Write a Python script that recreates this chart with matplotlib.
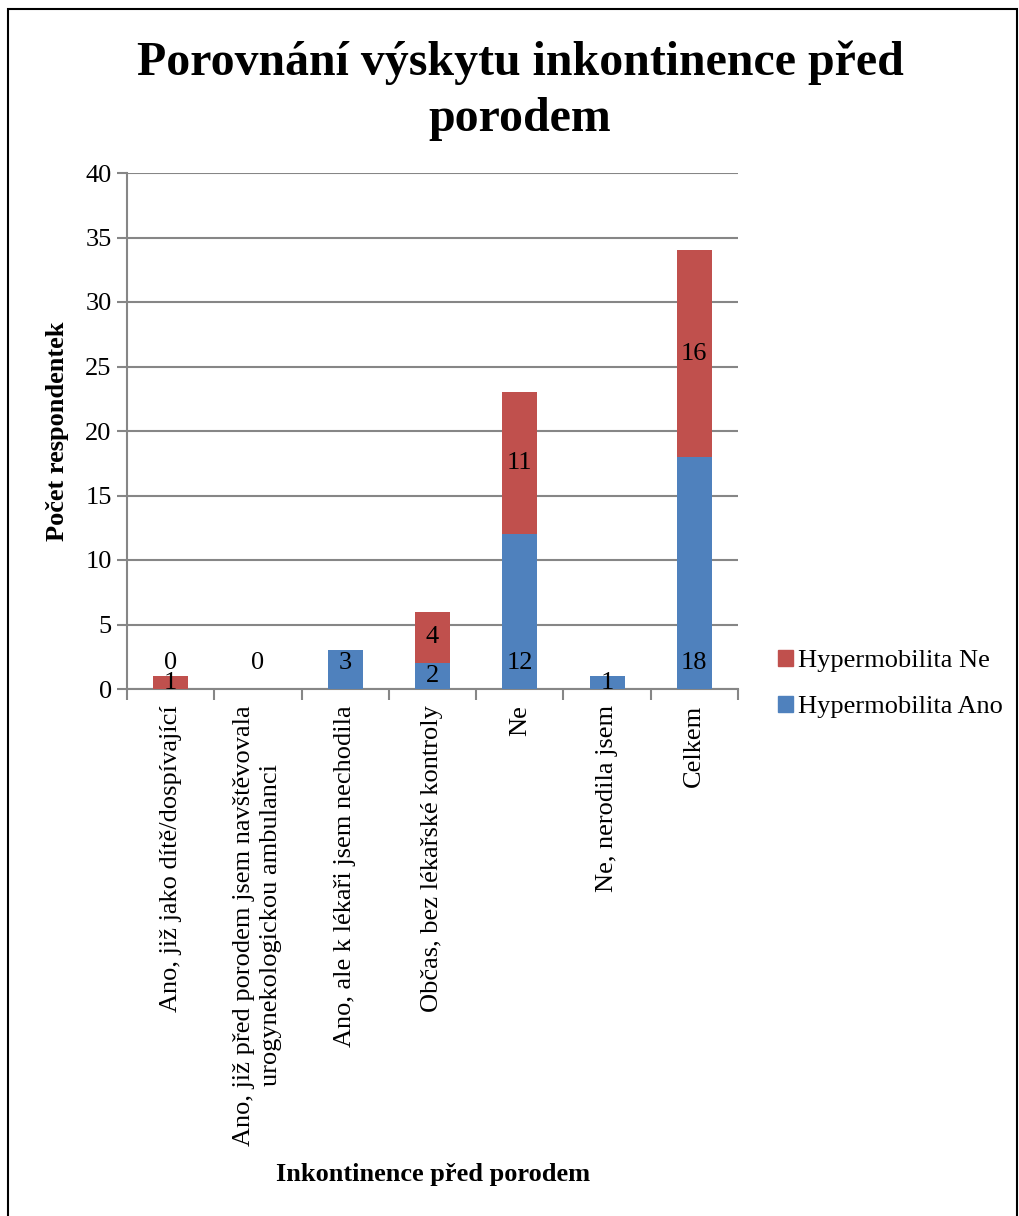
import matplotlib
matplotlib.use("Agg")
import matplotlib.pyplot as plt
import numpy as np
from matplotlib.patches import Rectangle, Patch

categories = [
    "Ano, již jako dítě/dospívající",
    "Ano, již před porodem jsem navštěvovala\nurogynekologickou ambulanci",
    "Ano, ale k lékaři jsem nechodila",
    "Občas, bez lékařské kontroly",
    "Ne",
    "Ne, nerodila jsem",
    "Celkem",
]
hyper_ano = [0, 0, 3, 2, 12, 1, 18]
hyper_ne = [1, np.nan, np.nan, 4, 11, np.nan, 16]
yticks = [0, 5, 10, 15, 20, 25, 30, 35, 40]

title = "Porovnání výskytu inkontinence před\nporodem"
xlabel = "Inkontinence před porodem"
ylabel = "Počet respondentek"

BLUE = "#4F81BD"
RED = "#C0504D"
GRID = "#868686"

plt.rcParams['font.family'] = ['Liberation Serif', 'DejaVu Serif']

W, H = 1020, 1216
fig = plt.figure(figsize=(W / 100, H / 100), dpi=100)
ax = fig.add_axes([127 / W, 1 - 689 / H, (738 - 127) / W, (689 - 173) / H])

x = np.arange(len(categories))
ano = np.array(hyper_ano, dtype=float)
ne = np.array(hyper_ne, dtype=float)
ax.bar(x, ano, width=0.4, color=BLUE, zorder=3, label="Hypermobilita Ano")
ax.bar(x, np.nan_to_num(ne), bottom=ano, width=0.4, color=RED, zorder=3,
       label="Hypermobilita Ne")

fs = 19
# data labels
for i, v in enumerate(ano):
    if v >= 3 or v == 0:
        y = 2.0
    else:
        y = v / 2
    ax.text(i, y, f"{int(v)}", ha="center", va="center", fontsize=fs, zorder=5)
for i, v in enumerate(ne):
    if np.isnan(v):
        continue
    ax.text(i, ano[i] + v / 2, f"{int(v)}", ha="center", va="center", fontsize=fs, zorder=5)

ax.set_xlim(-0.5, len(categories) - 0.5)
ax.set_ylim(0, 40)
ax.set_yticks(yticks)
ax.set_yticklabels([str(t) for t in yticks], fontsize=fs)
ax.yaxis.grid(True, color=GRID, lw=1.5, zorder=0)
ax.set_axisbelow(True)

ax.set_xticks(np.arange(len(categories) + 1) - 0.5)
ax.set_xticklabels([])
ax.tick_params(axis="x", length=8, width=1.5, color=GRID, direction="out")
ax.tick_params(axis="y", length=7, width=1.5, color=GRID, direction="out", pad=4)
for s in ["top", "right"]:
    ax.spines[s].set_visible(False)
for s in ["left", "bottom"]:
    ax.spines[s].set_color(GRID)
    ax.spines[s].set_linewidth(1.5)

# category labels, rotated
for i, c in enumerate(categories):
    ax.annotate(c, xy=(i, 0), xycoords=("data", "axes fraction"),
                xytext=(0, -16), textcoords="offset pixels",
                rotation=90, ha="center", va="top", multialignment="center",
                fontsize=fs, linespacing=1.3)

fig.text(520 / W, 1 - 91 / H, title, ha="center", va="center",
         fontsize=34.5, fontweight="bold", linespacing=1.35)
fig.text(58 / W, 1 - 431 / H, ylabel, ha="center", va="center", rotation=90,
         fontsize=19, fontweight="bold")
fig.text(433 / W, 1 - 1175 / H, xlabel, ha="center", va="center",
         fontsize=19, fontweight="bold")

handles = [Patch(color=RED), Patch(color=BLUE)]
fig.legend(handles, ["Hypermobilita Ne", "Hypermobilita Ano"],
           loc="center left", bbox_to_anchor=(778 / W, 1 - 684 / H),
           frameon=False, fontsize=fs, handlelength=0.55, handleheight=0.55,
           handletextpad=0.2, labelspacing=0.9, borderaxespad=0, borderpad=0)

fig.add_artist(Rectangle((8 / W, -0.01), (1017 - 8) / W, 1 - 9 / H + 0.01,
                         transform=fig.transFigure, fill=False,
                         edgecolor="black", lw=1.5))

fig.savefig("out.png", dpi=100)
